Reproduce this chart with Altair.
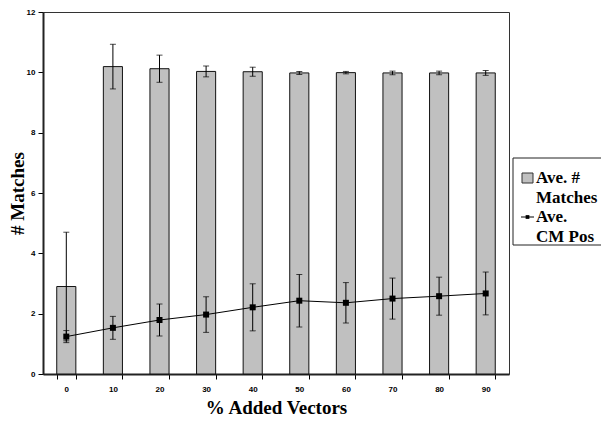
import altair as alt
import pandas as pd

pct = ["0", "10", "20", "30", "40", "50", "60", "70", "80", "90"]
matches = [2.9, 10.19, 10.12, 10.03, 10.02, 9.98, 9.99, 9.98, 9.98, 9.98]
matches_err = [1.8, 0.74, 0.45, 0.18, 0.15, 0.05, 0.04, 0.06, 0.06, 0.08]
cm_pos = [1.24, 1.53, 1.79, 1.97, 2.21, 2.43, 2.36, 2.50, 2.58, 2.67]
cm_err = [0.20, 0.38, 0.53, 0.59, 0.78, 0.87, 0.67, 0.68, 0.63, 0.71]
y_ticks = [0, 2, 4, 6, 8, 10, 12]

df = pd.DataFrame({
    "pct": pct,
    "m": matches,
    "m_lo": [v - e for v, e in zip(matches, matches_err)],
    "m_hi": [v + e for v, e in zip(matches, matches_err)],
    "c": cm_pos,
    "c_lo": [v - e for v, e in zip(cm_pos, cm_err)],
    "c_hi": [v + e for v, e in zip(cm_pos, cm_err)],
})

W, H = 466, 362
x = alt.X("pct:N", sort=pct,
          scale=alt.Scale(paddingInner=0.59, paddingOuter=0.295),
          axis=alt.Axis(title="% Added Vectors", labelAngle=0, tickBand="extent", ticks=True,
                        labelFont="Liberation Sans", labelFontWeight="bold", labelFontSize=8,
                        labelPadding=6, tickSize=5, tickWidth=1, tickColor="black",
                        domainColor="#222", domainWidth=2,
                        titleFont="Liberation Serif", titleFontSize=19, titleFontWeight="bold",
                        titleColor="black", titleX=W / 2, titleY=33, titleBaseline="middle",
                        labelColor="black"))
yscale = alt.Scale(domain=[0, 12], nice=False)
yaxis = alt.Axis(title="# Matches", values=y_ticks, grid=False,
                 labelFont="Liberation Sans", labelFontWeight="bold", labelFontSize=8,
                 labelPadding=3, tickSize=5, tickWidth=1, tickColor="black",
                 domainColor="#222", domainWidth=2,
                 titleFont="Liberation Serif", titleFontSize=19, titleFontWeight="bold",
                 titleColor="black", titleX=-26, titleY=H / 2, titleBaseline="middle",
                 titleAngle=-90, labelColor="black")

base = alt.Chart(df)
xs = alt.X("pct:N", sort=pct)
bars = base.mark_bar(color="#c0c0c0", stroke="#111", strokeWidth=1).encode(
    x=x, y=alt.Y("m:Q", scale=yscale, axis=yaxis))
bar_err = base.mark_rule(color="black", strokeWidth=1).encode(x=xs, y="m_lo:Q", y2="m_hi:Q")
bar_cap_hi = base.mark_tick(color="black", size=6, thickness=1, orient="horizontal").encode(
    x=xs, y="m_hi:Q")
bar_cap_lo = base.mark_tick(color="black", size=6, thickness=1, orient="horizontal").encode(
    x=xs, y="m_lo:Q")
line = base.mark_line(color="black", strokeWidth=1).encode(x=xs, y="c:Q")
line_err = base.mark_rule(color="black", strokeWidth=1).encode(x=xs, y="c_lo:Q", y2="c_hi:Q")
line_cap_hi = base.mark_tick(color="black", size=6, thickness=1, orient="horizontal").encode(
    x=xs, y="c_hi:Q")
line_cap_lo = base.mark_tick(color="black", size=6, thickness=1, orient="horizontal").encode(
    x=xs, y="c_lo:Q")
pts = base.mark_square(color="black", size=36, opacity=1).encode(x=xs, y="c:Q")

# legend (decoration, drawn in pixel space to the right of the plot)
one = alt.Chart(pd.DataFrame({"a": [0]}))
box_l = one.mark_rule(color="#222", strokeWidth=1).encode(
    x=alt.value(470), y=alt.value(146), y2=alt.value(233))
box_t = one.mark_rule(color="#222", strokeWidth=1).encode(
    x=alt.value(470), x2=alt.value(558), y=alt.value(146))
box_b = one.mark_rule(color="#222", strokeWidth=1).encode(
    x=alt.value(470), x2=alt.value(558), y=alt.value(233))
leg_sq = one.mark_rect(fill="#c0c0c0", stroke="#333", strokeWidth=1).encode(
    x=alt.value(479), x2=alt.value(490), y=alt.value(161), y2=alt.value(171))
leg_ln = one.mark_rule(color="black", strokeWidth=1).encode(
    x=alt.value(478), x2=alt.value(491), y=alt.value(205))
leg_pt = one.mark_square(color="black", size=14, opacity=1).encode(
    x=alt.value(484.5), y=alt.value(205))
tprops = dict(font="Liberation Serif", fontWeight="bold", fontSize=17, align="left",
              baseline="middle", color="black", lineHeight=20)
leg_t1 = one.mark_text(text=["Ave. #", "Matches"], **tprops).encode(
    x=alt.value(493), y=alt.value(166))
leg_t2 = one.mark_text(text=["Ave.", "CM Pos"], **tprops).encode(
    x=alt.value(493), y=alt.value(205))

chart = alt.layer(
    bars, bar_err, bar_cap_hi, bar_cap_lo, line, line_err, line_cap_hi, line_cap_lo, pts,
    box_l, box_t, box_b, leg_sq, leg_ln, leg_pt, leg_t1, leg_t2
).properties(
    width=W, height=H,
    autosize=alt.AutoSizeParams(type="none"),
    padding={"left": 35, "top": 4, "right": 92, "bottom": 48},
).configure_view(stroke="#333", strokeWidth=1)

chart.save("out.html", embed_options={"renderer": "svg", "actions": False})
